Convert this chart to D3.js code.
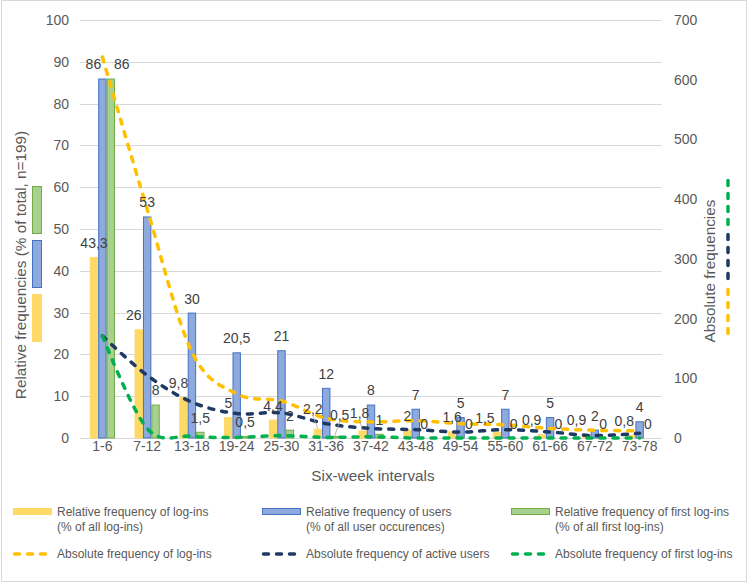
<!DOCTYPE html>
<html><head><meta charset="utf-8">
<script src="https://cdn.jsdelivr.net/npm/d3@7/dist/d3.min.js"></script>
<style>
body{margin:0;background:#fff}
text{font-family:"Liberation Sans",Arial,Helvetica,sans-serif}
</style>
</head><body>
<svg id="c" width="748" height="583"></svg>
<script>
const categories = ["1-6","7-12","13-18","19-24","25-30","31-36","37-42","43-48","49-54","55-60","61-66","67-72","73-78"];
const relLogins = [43.3,26,9.8,5,4.4,2.2,1.8,2,1.6,1.5,0.9,0.9,0.8];
const relUsers  = [86,53,30,20.5,21,12,8,7,5,7,5,2,4];
const relFirst  = [86,8,1.5,0.5,2,0.5,1,0,0,0,0,0,0];
const absLogins = [638,383,144,74,62,33,27,29,24,22,16,13,12];
const absUsers  = [171,105,60,41,42,24,16,14,10,14,10,4,8];
const absFirst  = [171,16,3,1,4,1,2,0,0,0,0,0,0];
const leftTicks  = [0,10,20,30,40,50,60,70,80,90,100];
const rightTicks = [0,100,200,300,400,500,600,700];
const fmt = v => String(v).replace(".", ",");

const svg = d3.select("#c");
const L = 80, R = 662, T = 20, B = 438;

svg.append("rect").attr("x",1.5).attr("y",0.5).attr("width",745).attr("height",581)
  .attr("fill","#fff").attr("stroke","#d9d9d9");

const x = d3.scaleBand().domain(categories).range([L,R]).padding(0);
const yL = d3.scaleLinear().domain([0,100]).range([B,T]);
const yR = d3.scaleLinear().domain([0,700]).range([B,T]);
const series = ["log","usr","fst"];
const xs = d3.scaleBand().domain(series).range([-12.6,12.6]).padding(0);
const cx = c => x(c) + x.bandwidth()/2;

// gridlines
svg.append("g").selectAll("line").data(leftTicks).join("line")
  .attr("x1",L).attr("x2",R).attr("y1",d=>Math.round(yL(d))+0.5).attr("y2",d=>Math.round(yL(d))+0.5)
  .attr("stroke","#d9d9d9").attr("stroke-width",1);

// left axis
const axL = d3.axisLeft(yL).tickValues(leftTicks).tickSize(0).tickPadding(11);
const gL = svg.append("g").attr("transform",`translate(${L},0)`).call(axL);
gL.select(".domain").remove();
gL.selectAll("text").attr("fill","#595959").style("font-size","14px");

// right axis
const axR = d3.axisRight(yR).tickValues(rightTicks).tickSize(0).tickPadding(12);
const gR = svg.append("g").attr("transform",`translate(${R},0)`).call(axR);
gR.select(".domain").remove();
gR.selectAll("text").attr("fill","#595959").style("font-size","14px");

// x axis
const axX = d3.axisBottom(x).tickSize(0).tickPadding(3);
const gX = svg.append("g").attr("transform",`translate(0,${B})`).call(axX);
gX.select(".domain").remove();
gX.selectAll("text").attr("fill","#595959").style("font-size","14px");

// bars
const barDefs = [
  {key:"log", vals:relLogins, fill:"#FFD966", stroke:"#FFD966"},
  {key:"usr", vals:relUsers,  fill:"#8EA9DB", stroke:"#4472C4"},
  {key:"fst", vals:relFirst,  fill:"#A9D18E", stroke:"#70AD47"}
];
barDefs.forEach(s=>{
  svg.append("g").selectAll("rect").data(s.vals).join("rect")
    .attr("x",(d,i)=>cx(categories[i])+xs(s.key)+0.5)
    .attr("y",d=>yL(d)+0.5)
    .attr("width",xs.bandwidth()-1)
    .attr("height",d=>Math.max(0,B-yL(d)-0.5))
    .attr("fill",s.fill).attr("stroke",d=>d>0?s.stroke:"none").attr("stroke-width",1);
});

// lines
const lineDefs = [
  {vals:absLogins, color:"#FFC000"},
  {vals:absUsers,  color:"#203864"},
  {vals:absFirst,  color:"#00B050"}
];
const line = d3.line().x((d,i)=>cx(categories[i])).y(d=>yR(d)).curve(d3.curveCatmullRom.alpha(0));
const dash = "5,8";
lineDefs.forEach(s=>{
  svg.append("path").datum(s.vals).attr("d",line).attr("fill","none")
    .attr("stroke",s.color).attr("stroke-width",3.5).attr("stroke-dasharray",dash).attr("stroke-linecap","round");
});

// data labels
const nudges = {"usr0":[-9,0],"fst0":[11,0],"log1":[-5,0],"log2":[-5,0],"log5":[-5,-6],"fst5":[5,-7],"log6":[-3,-3],
  "log9":[-12,0],"log10":[-10,0],"log11":[-10,0],"log12":[-7,0]};
const leaders = ["log5","fst5","log6"];
barDefs.forEach(s=>{
  s.vals.forEach((v,i)=>{
    const bx = cx(categories[i])+xs(s.key)+xs.bandwidth()/2;
    const by = yL(v);
    const n = nudges[s.key+i] || [0,0];
    const tx = bx+n[0], ty = by-14+n[1];
    if (leaders.includes(s.key+i)) {
      svg.append("line").attr("x1",tx).attr("y1",ty+7).attr("x2",bx).attr("y2",by)
        .attr("stroke","#a6a6a6").attr("stroke-width",0.8);
    }
    svg.append("text").attr("x",tx).attr("y",ty).attr("dy","0.35em")
      .attr("text-anchor","middle").attr("fill","#404040").style("font-size","14px").text(fmt(v));
  });
});

// axis titles
svg.append("text").attr("transform","translate(21,265) rotate(-90)").attr("dy","0.35em").attr("text-anchor","middle")
  .attr("fill","#595959").style("font-size","15.3px").text("Relative frequencies (% of total, n=199)");
const keySw = [{c:"#A9D18E",s:"#70AD47",y0:186},{c:"#8EA9DB",s:"#4472C4",y0:240},{c:"#FFD966",s:"#FFD966",y0:294}];
svg.append("g").selectAll("rect").data(keySw).join("rect")
  .attr("x",32.5).attr("y",d=>d.y0+0.5).attr("width",9).attr("height",47)
  .attr("fill",d=>d.c).attr("stroke",d=>d.s);

svg.append("text").attr("transform","translate(710,271) rotate(-90)").attr("dy","0.35em").attr("text-anchor","middle")
  .attr("fill","#595959").style("font-size","15.3px").text("Absolute frequencies");
const keyLn = [{c:"#00B050",y0:179},{c:"#203864",y0:233},{c:"#FFC000",y0:288}];
svg.append("g").selectAll("line").data(keyLn).join("line")
  .attr("x1",728).attr("x2",728).attr("y1",d=>d.y0+1.5).attr("y2",d=>d.y0+51)
  .attr("stroke",d=>d.c).attr("stroke-width",3.5).attr("stroke-dasharray",dash).attr("stroke-linecap","round");

svg.append("text").attr("x",373).attr("y",476).attr("dy","0.35em").attr("text-anchor","middle")
  .attr("fill","#595959").style("font-size","15.3px").text("Six-week intervals");

// legend
const legBars = [
  {x:13, c:"#FFD966", s:"#FFD966", t1:"Relative frequency of log-ins", t2:"(% of all log-ins)"},
  {x:262, c:"#8EA9DB", s:"#4472C4", t1:"Relative frequency of users", t2:"(% of all user occurences)"},
  {x:511, c:"#A9D18E", s:"#70AD47", t1:"Relative frequency of first log-ins", t2:"(% of all first log-ins)"}
];
legBars.forEach(d=>{
  svg.append("rect").attr("x",d.x+0.5).attr("y",508.5).attr("width",38).attr("height",6)
    .attr("fill",d.c).attr("stroke",d.s);
  svg.append("text").attr("x",d.x+44).attr("y",512).attr("dy","0.35em").attr("fill","#595959")
    .style("font-size","12px").text(d.t1);
  svg.append("text").attr("x",d.x+44).attr("y",527).attr("dy","0.35em").attr("fill","#595959")
    .style("font-size","12px").text(d.t2);
});
const legLines = [
  {x:13, c:"#FFC000", t:"Absolute frequency of log-ins"},
  {x:262, c:"#203864", t:"Absolute frequency of active users"},
  {x:511, c:"#00B050", t:"Absolute frequency of first log-ins"}
];
legLines.forEach(d=>{
  svg.append("line").attr("x1",d.x+1.5).attr("x2",d.x+36).attr("y1",554).attr("y2",554)
    .attr("stroke",d.c).attr("stroke-width",3.5).attr("stroke-dasharray",dash).attr("stroke-linecap","round");
  svg.append("text").attr("x",d.x+44).attr("y",554).attr("dy","0.35em").attr("fill","#595959")
    .style("font-size","12px").text(d.t);
});
</script>
</body></html>
